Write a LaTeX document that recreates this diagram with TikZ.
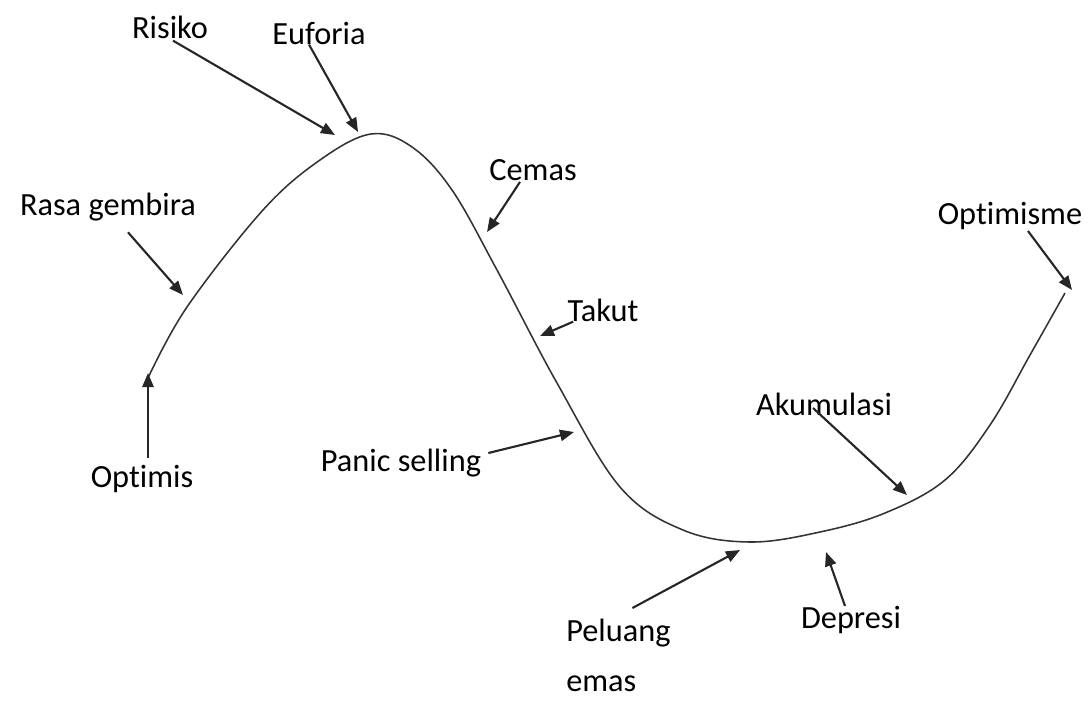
\documentclass[tikz,border=0pt]{standalone}
\usepackage{fontspec}
\setmainfont[Ligatures=NoCommon]{Carlito}
\usetikzlibrary{arrows.meta, calc}

\begin{document}
\begin{tikzpicture}[x=0.025cm, y=-0.025cm,
  lbl/.style={font=\fontsize{23}{27}\selectfont, inner sep=0pt},
  arr/.style={-{Triangle[length=10pt, width=8pt]}, line width=1.5pt, black!85},
  crv/.style={line width=1.1pt, black!80}
]
\useasboundingbox (0,0) rectangle (1089,706);

% market cycle curve
\draw[crv] plot[smooth, tension=0.6] coordinates {
  (148,378) (187,307) (263,210) (320,160) (371,134) (412,147)
  (452,190) (497,270) (557,383) (620,487) (683,530) (750,542)
  (820,532) (885,513) (945,480) (990,425) (1030,355) (1065,293)};

% points on the curve
\coordinate (pRis) at (335,135);
\coordinate (pEuf) at (358,132);
\coordinate (pRasa) at (183,295);
\coordinate (pOpt) at (148,373);
\coordinate (pCem) at (487,232);
\coordinate (pTak) at (540,336);
\coordinate (pPan) at (574,432);
\coordinate (pAku) at (907,495);
\coordinate (pPel) at (740,550);
\coordinate (pDep) at (826,552);
\coordinate (pOpm) at (1072,290);

% labels
\node[lbl] (ris) at (170,27) {Risiko};
\node[lbl] (euf) at (319,33) {Euforia};
\node[lbl] (rasa) at (108,207) {Rasa gembira};
\node[lbl] (opt) at (142,479) {Optimis};
\node[lbl] (cem) at (533,170) {Cemas};
\node[lbl] (tak) at (603,310) {Takut};
\node[lbl] (pan) at (401,463) {Panic selling};
\node[lbl] (aku) at (824,404) {Akumulasi};
\node[lbl, font=\fontsize{23}{35.5}\selectfont, align=left, anchor=north west]
  (pel) at (566,619) {Peluang\\emas};
\node[lbl] (dep) at (851,620) {Depresi};
\node[lbl] (opm) at (1010,216) {Optimisme};

% arrows
\draw[arr] ($(ris.south)+(3,2)$) -- (pRis);
\draw[arr] ($(euf.south)+(-10,0)$) -- (pEuf);
\draw[arr] ($(rasa.south)+(20,11)$) -- (pRasa);
\draw[arr] ($(opt.north)+(6,-7)$) -- (pOpt);
\draw[arr] ($(cem.south)+(-13,1)$) -- (pCem);
\draw[arr] ($(tak.south west)+(6,0)$) -- (pTak);
\draw[arr] ($(pan.east)+(7,-10)$) -- (pPan);
\draw[arr] ($(aku.center)+(-11,4)$) -- (pAku);
\draw[arr] ($(pel.north)+(14,-11)$) -- (pPel);
\draw[arr] ($(dep.north)+(-6,0)$) -- (pDep);
\draw[arr] ($(opm.south)+(18,1)$) -- (pOpm);
\end{tikzpicture}
\end{document}
